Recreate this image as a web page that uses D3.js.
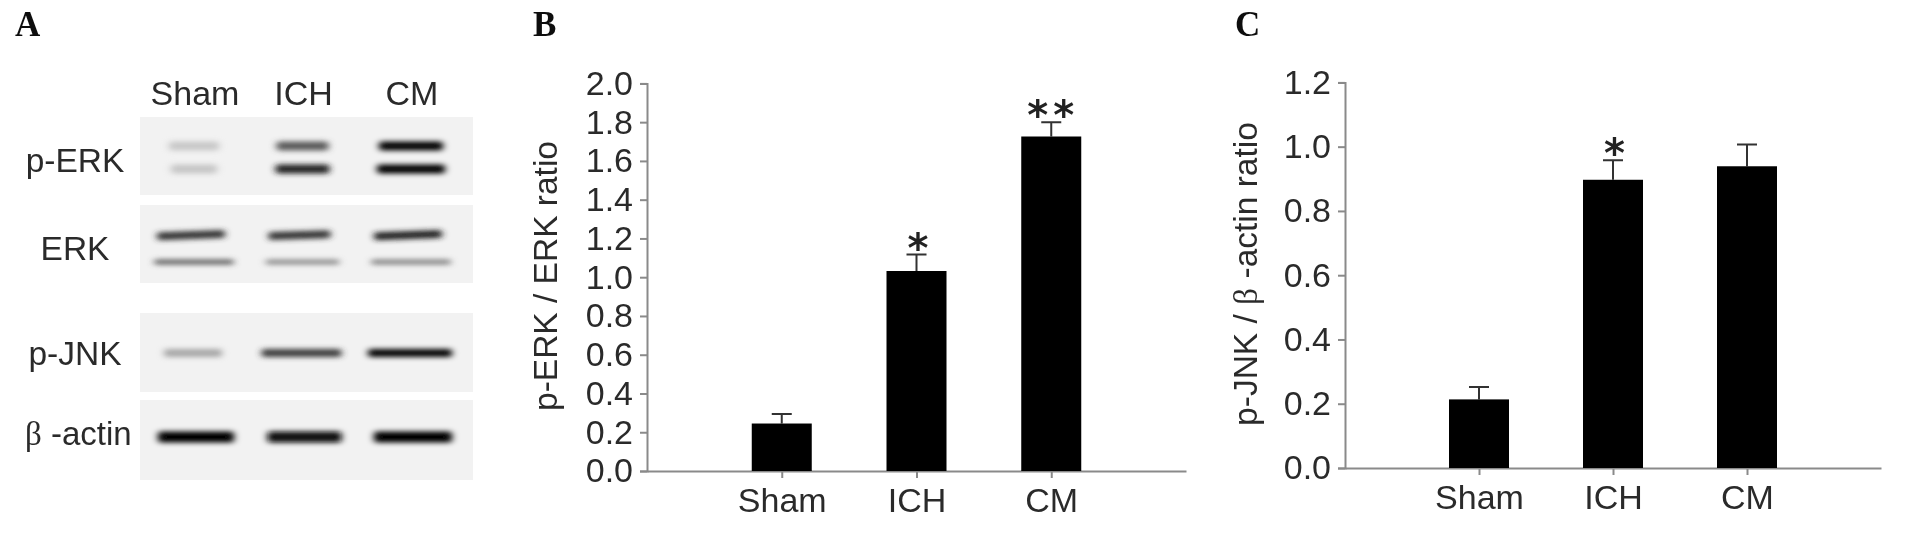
<!DOCTYPE html>
<html>
<head>
<meta charset="utf-8">
<script src="https://cdn.jsdelivr.net/npm/d3@7"></script>
<style>
  html, body { margin: 0; padding: 0; background: #fff; }
  text { font-family: "Liberation Sans", Arial, sans-serif; fill: #2b2b2b; }
  .letter { font-family: "Liberation Serif", serif; font-weight: bold; font-size: 35px; fill: #111; }
  .serif { font-family: "Liberation Serif", serif; }
  .star { font-family: "DejaVu Sans", sans-serif; font-weight: bold; font-size: 40px; fill: #222; }
</style>
</head>
<body>
<script>
const categories = ["Sham", "ICH", "CM"];

// panel B
const erkTicks = ["0.0", "0.2", "0.4", "0.6", "0.8", "1.0", "1.2", "1.4", "1.6", "1.8", "2.0"];
const erkMeans = [0.245, 1.032, 1.726];
const erkErrTops = [0.294, 1.117, 1.80];
const erkStars = ["", "*", "**"];

// panel C
const jnkTicks = ["0.0", "0.2", "0.4", "0.6", "0.8", "1.0", "1.2"];
const jnkMeans = [0.2135, 0.897, 0.939];
const jnkErrTops = [0.252, 0.958, 1.007];
const jnkStars = ["", "*", ""];

// panel A, how dark each band looks (0 = background, 1 = black)
const pErkUpper = [0.16, 0.62, 1.0];
const pErkLower = [0.17, 0.85, 1.0];
const erkUpper = [0.78, 0.78, 0.85];
const erkLower = [0.6, 0.42, 0.46];
const pJnkBand = [0.3, 0.74, 1.0];
const actinBand = [1.0, 0.95, 1.0];

const blotLabels = ["p-ERK", "ERK", "p-JNK"];

const svg = d3.select("body").append("svg")
    .attr("width", 1906)
    .attr("height", 538)
    .style("display", "block");

const defs = svg.append("defs");
defs.append("filter").attr("id", "bandBlur")
    .attr("x", "-20%").attr("y", "-100%").attr("width", "140%").attr("height", "300%")
    .append("feGaussianBlur").attr("stdDeviation", "3.5 2.8");
defs.append("filter").attr("id", "soft")
    .attr("x", "-5%").attr("y", "-5%").attr("width", "110%").attr("height", "110%")
    .append("feGaussianBlur").attr("stdDeviation", 0.5);

const root = svg.append("g").attr("filter", "url(#soft)");

const drawLetter = (label, x) => {
    root.append("text").attr("class", "letter").attr("x", x).attr("y", 36).text(label);
};

// ---------- panel A: the blot
const drawBlot = () => {
    const laneX = d3.scalePoint().domain(categories).range([194, 411]);
    const ink = d3.scaleLinear().domain([0, 1]).range(["#eeeeee", "#000000"]);

    const panels = [
        { top: 117, bottom: 195 },
        { top: 205, bottom: 283 },
        { top: 313, bottom: 392 },
        { top: 400, bottom: 480 }
    ];
    panels.forEach(p => {
        root.append("rect")
            .attr("x", 140).attr("y", p.top)
            .attr("width", 333).attr("height", p.bottom - p.top)
            .attr("fill", "#f2f2f2");
    });

    const bands = [
        { values: pErkUpper, y: 146, h: 9, nudge: 0, widths: [50, 52, 64], tilt: 0 },
        { values: pErkLower, y: 169, h: 9, nudge: 0, widths: [46, 54, 68], tilt: 0 },
        { values: erkUpper, y: 235, h: 8, nudge: -3, widths: [68, 62, 68], tilt: -2 },
        { values: erkLower, y: 262, h: 5, nudge: 0, widths: [80, 74, 80], tilt: 0 },
        { values: pJnkBand, y: 353, h: 8, nudge: -1, widths: [58, 80, 84], tilt: 0 },
        { values: actinBand, y: 437, h: 11, nudge: 2, widths: [76, 74, 78], tilt: 0 }
    ];

    const bandGroup = root.append("g").attr("filter", "url(#bandBlur)");
    bands.forEach(band => {
        bandGroup.selectAll(null)
            .data(categories)
            .join("rect")
            .attr("x", (d, i) => laneX(d) + band.nudge - band.widths[i] / 2)
            .attr("y", band.y - band.h / 2)
            .attr("width", (d, i) => band.widths[i])
            .attr("height", band.h)
            .attr("rx", 3)
            .attr("fill", (d, i) => ink(band.values[i]))
            .attr("transform", d => `rotate(${band.tilt} ${laneX(d)} ${band.y})`);
    });

    // lane names above the blot
    root.selectAll(null)
        .data(categories)
        .join("text")
        .attr("x", d => laneX(d) + 1)
        .attr("y", 105)
        .attr("text-anchor", "middle")
        .attr("font-size", 34)
        .text(d => d);

    // row names on the left
    const rowAnchors = [75, 75, 75];
    const rowBase = [172, 260, 365];
    blotLabels.forEach((label, i) => {
        root.append("text")
            .attr("x", rowAnchors[i])
            .attr("y", rowBase[i])
            .attr("text-anchor", "middle")
            .attr("font-size", 33.5)
            .text(label);
    });
    const actin = root.append("text")
        .attr("x", 25).attr("y", 445)
        .attr("font-size", 33);
    actin.append("tspan").attr("class", "serif").text("β");
    actin.append("tspan").text(" -actin");
};

// ---------- panels B and C: bar charts
const drawBars = (opt) => {
    const x = d3.scalePoint()
        .domain(categories)
        .range([opt.left, opt.right])
        .padding(1);
    const y = d3.scaleLinear()
        .domain([0, +opt.ticks[opt.ticks.length - 1]])
        .range([opt.bottom, opt.top]);
    const barWidth = 60;

    const g = root.append("g");

    g.selectAll(".err")
        .data(categories)
        .join("path")
        .attr("d", (d, i) => {
            const cx = x(d);
            return `M${cx},${y(opt.means[i])}V${y(opt.errTops[i])}M${cx - 10},${y(opt.errTops[i])}H${cx + 10}`;
        })
        .attr("fill", "none")
        .attr("stroke", "#333")
        .attr("stroke-width", 2);

    const axisY = g.append("g")
        .attr("transform", `translate(${opt.left},0)`)
        .call(d3.axisLeft(y)
            .tickValues(opt.ticks.map(Number))
            .tickFormat(d3.format(".1f"))
            .tickSize(7)
            .tickPadding(7));
    const axisX = g.append("g")
        .attr("transform", `translate(0,${opt.bottom})`)
        .call(d3.axisBottom(x)
            .tickSizeInner(7)
            .tickSizeOuter(0)
            .tickPadding(10));

    [axisY, axisX].forEach(a => {
        a.selectAll("path, line").attr("stroke", "#8a8a8a").attr("stroke-width", 2);
        a.selectAll("text").attr("font-size", 34).attr("font-family", null).attr("fill", "#2b2b2b");
    });

    g.selectAll(".bar")
        .data(categories)
        .join("rect")
        .attr("x", d => x(d) - barWidth / 2)
        .attr("y", (d, i) => y(opt.means[i]))
        .attr("width", barWidth)
        .attr("height", (d, i) => opt.bottom - y(opt.means[i]))
        .attr("fill", "#000");

    // letter-spacing pulls the single star left, so it needs a bit more
    g.selectAll(".star")
        .data(categories)
        .join("text")
        .attr("class", "star")
        .attr("x", (d, i) => x(d) + (opt.stars[i].length === 1 ? 4 : 2))
        .attr("y", (d, i) => y(opt.errTops[i]) + 7)
        .attr("text-anchor", "middle")
        .attr("letter-spacing", 5)
        .text((d, i) => opt.stars[i]);

    const title = g.append("text")
        .attr("transform", `translate(${opt.titleX},${opt.titleY}) rotate(-90)`)
        .attr("text-anchor", "middle")
        .attr("font-size", 33.5);
    opt.title.forEach(part => {
        title.append("tspan").attr("class", part.serif ? "serif" : null).text(part.text);
    });
};

const main = () => {
    drawLetter("A", 15);
    drawLetter("B", 533);
    drawLetter("C", 1235);

    drawBlot();

    drawBars({
        left: 647, right: 1186, top: 83.4, bottom: 471,
        ticks: erkTicks, means: erkMeans, errTops: erkErrTops, stars: erkStars,
        title: [{ text: "p-ERK / ERK ratio" }], titleX: 557, titleY: 276
    });
    drawBars({
        left: 1345, right: 1881, top: 82.4, bottom: 468,
        ticks: jnkTicks, means: jnkMeans, errTops: jnkErrTops, stars: jnkStars,
        title: [{ text: "p-JNK / " }, { text: "β", serif: true }, { text: " -actin ratio" }], titleX: 1257, titleY: 274
    });
};

window.addEventListener("load", main);
</script>
</body>
</html>
